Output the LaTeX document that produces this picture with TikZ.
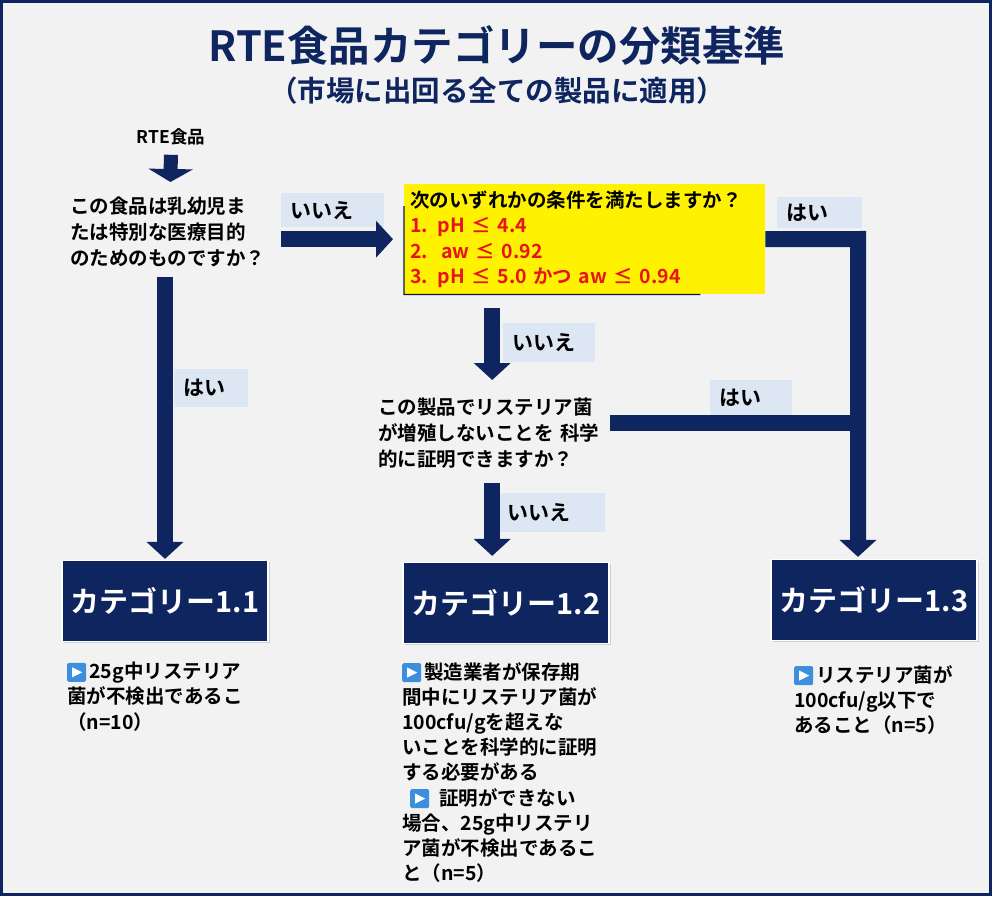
\documentclass[tikz,border=0pt]{standalone}
\usepackage{fontspec}
\setmainfont{Noto Sans CJK JP}[BoldFont={Noto Sans CJK JP Bold}]
\usepackage{xcolor}
\usepackage{tikz}
\usetikzlibrary{arrows.meta,positioning,calc,shadows}

\definecolor{navy}{HTML}{0E2560}
\definecolor{pagebg}{HTML}{F2F2F2}
\definecolor{lblue}{HTML}{DDE7F3}
\definecolor{iconblue}{HTML}{3E8EDE}
\definecolor{condred}{HTML}{E8141B}

% small blue play icon in the descriptions
\newcommand{\playicon}{\tikz[x=1pt,y=1pt,baseline=0pt]{%
  \fill[iconblue,rounded corners=1.5pt] (0,-3) rectangle (19,16);
  \fill[white] (5,1.5) -- (15,6.5) -- (5,11.5) -- cycle;}}

\begin{document}
\begin{tikzpicture}[
  x=1pt, y=-1pt,
  font=\bfseries,
  flow/.style={navy, line width=16pt, line join=miter, -{Triangle[width=36pt,length=17pt]}},
  bar/.style={navy, line width=16pt},
  qtext/.style={anchor=north west, align=left, inner sep=0pt,
                font=\bfseries\fontsize{19.5}{26}\selectfont},
  lbl/.style={fill=lblue, anchor=north west, text width=#1, align=left,
              inner xsep=9pt, inner ysep=0pt, font=\bfseries\fontsize{21}{21}\selectfont},
  cat/.style={fill=navy, draw=white, line width=1.2pt, minimum width=206pt, minimum height=81pt,
              text=white, font=\bfseries\fontsize{29}{29}\selectfont,
              drop shadow={opacity=0.3, shadow xshift=1.5pt, shadow yshift=-1.5pt}},
  desc/.style={anchor=north west, align=left, inner sep=0pt,
               font=\bfseries\fontsize{19.5}{25.2}\selectfont}
]
\useasboundingbox (0,0) rectangle (994,900);
\fill[white] (0,0) rectangle (994,900);
\fill[pagebg] (1.5,1.5) rectangle (990,894);
\draw[navy, line width=3pt] (1.5,1.5) rectangle (990,894);

% ---------- title ----------
\node[font=\bfseries\fontsize{41.5}{44}\selectfont, text=navy] (title) at (497,45) {RTE食品カテゴリーの分類基準};
\node[font=\bfseries\fontsize{28.5}{30}\selectfont, text=navy] (subtitle) at (497,91) {（市場に出回る全ての製品に適用）};

% ---------- questions ----------
\node[font=\bfseries\fontsize{17.5}{20}\selectfont] (rte) at (171,137) {RTE食品};
\node[qtext, text width=200pt] (q1) at (70,197) {この食品は乳幼児ま\\たは特別な医療目的\\のためのものですか？};
\node[fill=yellow, anchor=north west, minimum width=361pt, minimum height=110pt,
      inner xsep=6pt, text width=349pt, align=left,
      font=\bfseries\fontsize{19.5}{25.5}\selectfont] (cond) at (404,184)
      {次のいずれかの条件を満たしますか？\\\color{condred}1. pH ≤ 4.4\\2.\ \ aw ≤ 0.92\\3. pH ≤ 5.0 かつ aw ≤ 0.94};
\draw[navy!70!black, line width=1.2pt] ($(cond.north west)!0.2!(cond.south west)$) -- (cond.south west)
      -- ($(cond.south west)!0.82!(cond.south east)$);
\node[qtext, text width=228pt] (q2) at (378,398) {この製品でリステリア菌\\が増殖しないことを 科学\\的に証明できますか？};

% ---------- categories ----------
\node[cat] (cat11) at (165,601) {カテゴリー1.1};
\node[cat] (cat12) at (506,603) {カテゴリー1.2};
\node[cat] (cat13) at (874,600) {カテゴリー1.3};

\node[desc] (d11) at (67,662) {\playicon\,25g中リステリア\\菌が不検出であるこ\\（n=10）};
\node[desc] (d12) at (402,662) {\playicon\,製造業者が保存期\\間中にリステリア菌が\\100cfu/gを超えな\\いことを科学的に証明\\する必要がある\\
  \hspace{8pt}\playicon\hspace{10pt}証明ができない\\場合、25g中リステリ\\ア菌が不検出であるこ\\と（n=5）};
\node[desc] (d13) at (794,665) {\playicon\,リステリア菌が\\100cfu/g以下で\\あること（n=5）};

% ---------- answer labels ----------
\node[lbl=85pt, minimum height=34pt] (no1) at (281,193) {いいえ};
\node[lbl=56pt, minimum height=38pt] (yes1) at (174,369) {はい};
\node[lbl=74pt, minimum height=39pt] (no2) at (503,323) {いいえ};
\node[lbl=67pt, minimum height=31pt] (yes2) at (777,197) {はい};
\node[lbl=64pt, minimum height=35pt] (yes3) at (710,380) {はい};
\node[lbl=89pt, minimum height=39pt] (no3) at (498,493) {いいえ};

% ---------- connectors ----------
\coordinate (drop) at (858,239);
\coordinate (q2r) at ($(q2.north east)!0.35!(q2.south east)$);
\draw[flow, shorten <=6pt, shorten >=15pt,
      -{Triangle[width=44pt,length=13pt]}, line width=14pt] (rte.south) -- (q1.north);
\draw[flow, shorten <=11pt, shorten >=11pt] (q1.east |- cond.west) -- (cond.west);
\draw[flow, shorten <=10pt, shorten >=1pt] (q1.south -| cat11.north) -- (cat11.north);
\draw[flow, shorten <=14pt, shorten >=18pt] (q2.north |- cond.south) -- (q2.north);
\draw[flow, shorten <=14pt, shorten >=6pt] (q2.south) -- (q2.south |- cat12.north);
\draw[flow, shorten >=2pt] (cond.east) -- (drop) -- (drop |- cat13.north);
\draw[bar, shorten <=4pt] (q2r) -- (q2r -| drop);

\end{tikzpicture}
\end{document}
